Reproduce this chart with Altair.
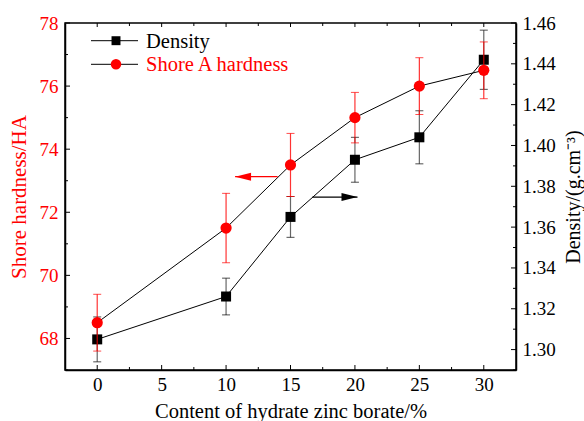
import altair as alt
import pandas as pd

# ---- data ----
content = [0, 10, 15, 20, 25, 30]
hardness = [68.5, 71.5, 73.5, 75.0, 76.0, 76.5]
hardness_err = [0.9, 1.1, 1.0, 0.8, 0.9, 0.9]
density = [1.305, 1.326, 1.365, 1.393, 1.404, 1.442]
density_err = [0.011, 0.009, 0.010, 0.011, 0.013, 0.0145]

x_major = [0, 5, 10, 15, 20, 25, 30]
x_minor = [2.5, 7.5, 12.5, 17.5, 22.5, 27.5]
h_major = [68, 70, 72, 74, 76, 78]
h_minor = [67, 69, 71, 73, 75, 77]
d_major = [1.30, 1.32, 1.34, 1.36, 1.38, 1.40, 1.42, 1.44, 1.46]
d_minor = [1.29, 1.31, 1.33, 1.35, 1.37, 1.39, 1.41, 1.43, 1.45]

arrow_h_tail = [14.0]
arrow_h_tip = [10.7]
arrow_h_level = [73.13]
arrow_d_tail = [16.7]
arrow_d_tip = [20.2]
arrow_d_level = [1.3747]

legend_labels = ["Density", "Shore A hardness"]

# ---- styling ----
FONT = "Liberation Serif"
RED = "#ff0000"
W, H = 451, 347

hdf = pd.DataFrame({"x": content, "y": hardness, "e": hardness_err})
hdf["lo"] = hdf["y"] - hdf["e"]
hdf["hi"] = hdf["y"] + hdf["e"]
ddf = pd.DataFrame({"x": content, "y": density, "e": density_err})
ddf["lo"] = ddf["y"] - ddf["e"]
ddf["hi"] = ddf["y"] + ddf["e"]

xscale = alt.Scale(domain=[-2.5, 32.5], nice=False, zero=False)
hscale = alt.Scale(domain=[67, 78], nice=False, zero=False)
dscale = alt.Scale(domain=[1.29, 1.46], nice=False, zero=False)

xaxis = alt.Axis(values=x_major, ticks=False, grid=False, domainColor="black", domainWidth=1.5,
                 labelFont=FONT, labelFontSize=19, labelColor="black", labelPadding=5, format="d",
                 title="Content of hydrate zinc borate/%", titleFont=FONT, titleFontSize=20.5,
                 titleFontWeight="normal", titleColor="black", titlePadding=7)
haxis = alt.Axis(orient="left", values=h_major, ticks=False, grid=False, domainColor="black", domainWidth=1.5,
                 labelFont=FONT, labelFontSize=19, labelColor=RED, labelPadding=7, format="d",
                 title="Shore hardness/HA", titleFont=FONT, titleFontSize=21,
                 titleFontWeight="normal", titleColor=RED, titlePadding=10)
daxis = alt.Axis(orient="right", values=d_major, ticks=False, grid=False, domainColor="black", domainWidth=1.5,
                 labelFont=FONT, labelFontSize=19, labelColor="black", labelPadding=6, format=".2f",
                 title="Density/(g.cm⁻³)", titleFont=FONT, titleFontSize=20, titleAngle=270,
                 titleBaseline="top", titleFontWeight="normal", titleColor="black", titlePadding=8)


def X(f):
    return alt.X(f"{f}:Q", scale=xscale, axis=xaxis)


def YH(f):
    return alt.Y(f"{f}:Q", scale=hscale, axis=haxis)


def YD(f):
    return alt.Y(f"{f}:Q", scale=dscale, axis=daxis)


# ---- hardness group ----
hbase = alt.Chart(hdf)
h_line = hbase.mark_line(color="black", strokeWidth=1).encode(x=X("x"), y=YH("y"))
h_err = hbase.mark_rule(color=RED, strokeWidth=1.2, opacity=0.8).encode(x=X("x"), y=YH("lo"), y2="hi")
h_cap_lo = hbase.mark_tick(color=RED, orient="horizontal", size=8, thickness=1).encode(x=X("x"), y=YH("lo"))
h_cap_hi = hbase.mark_tick(color=RED, orient="horizontal", size=8, thickness=1).encode(x=X("x"), y=YH("hi"))
h_pts = hbase.mark_point(shape="circle", filled=True, size=125, color=RED, opacity=1).encode(x=X("x"), y=YH("y"))

adf_h = pd.DataFrame({"tail": arrow_h_tail, "tip": arrow_h_tip, "lvl": arrow_h_level})
h_arrow = alt.Chart(adf_h).mark_rule(color=RED, strokeWidth=1.2).encode(x=X("tail"), x2="tip", y=YH("lvl"))
h_head = alt.Chart(adf_h).mark_point(shape="M0,0L2,-0.5L2,0.5Z", filled=True, size=256, color=RED,
                                     opacity=1).encode(x=X("tip"), y=YH("lvl"))

hmaj = pd.DataFrame({"v": h_major})
hmin = pd.DataFrame({"v": h_minor})
h_tmaj = alt.Chart(hmaj).mark_rule(color="black", strokeWidth=1).encode(
    y=YH("v"), x=alt.value(0), x2=alt.value(5))
h_tmin = alt.Chart(hmin).mark_rule(color="black", strokeWidth=1).encode(
    y=YH("v"), x=alt.value(0), x2=alt.value(3))

xmaj = pd.DataFrame({"v": x_major})
xmin = pd.DataFrame({"v": x_minor})
x_tmaj = alt.Chart(xmaj).mark_rule(color="black", strokeWidth=1).encode(
    x=X("v"), y=alt.value(H), y2=alt.value(H - 5))
x_tmin = alt.Chart(xmin).mark_rule(color="black", strokeWidth=1).encode(
    x=X("v"), y=alt.value(H), y2=alt.value(H - 3))
t_tmaj = alt.Chart(xmaj).mark_rule(color="black", strokeWidth=1).encode(
    x=X("v"), y=alt.value(0), y2=alt.value(4))
t_tmin = alt.Chart(xmin).mark_rule(color="black", strokeWidth=1).encode(
    x=X("v"), y=alt.value(0), y2=alt.value(3))

# ---- legend (inside, top-left) ----
leg = []
leg_rows = [(legend_labels[0], 17.7, "square", "black", 80), (legend_labels[1], 41.3, "circle", RED, 110)]
for i, (lab, ly, shp, col, sz) in enumerate(leg_rows):
    ldf = pd.DataFrame({"label": [lab]})
    leg.append(alt.Chart(ldf).mark_rule(color="black", strokeWidth=1).encode(
        x=alt.value(26), x2=alt.value(73), y=alt.value(ly)))
    leg.append(alt.Chart(ldf).mark_point(shape=shp, filled=True, size=sz, color=col, opacity=1).encode(
        x=alt.value(51), y=alt.value(ly)))
    leg.append(alt.Chart(ldf).mark_text(align="left", baseline="middle", font=FONT, fontSize=20.5,
                                        color=col).encode(x=alt.value(81), y=alt.value(ly + 1), text="label:N"))

hard_group = alt.layer(h_tmaj, h_tmin, x_tmaj, x_tmin, t_tmaj, t_tmin, h_line, h_err, h_cap_lo, h_cap_hi,
                       h_arrow, h_head, h_pts, *leg)

# ---- density group ----
dbase = alt.Chart(ddf)
d_line = dbase.mark_line(color="black", strokeWidth=1).encode(x=X("x"), y=YD("y"))
d_err = dbase.mark_rule(color="black", strokeWidth=1.2, opacity=0.6).encode(x=X("x"), y=YD("lo"), y2="hi")
d_cap_lo = dbase.mark_tick(color="black", orient="horizontal", size=8, thickness=1).encode(x=X("x"), y=YD("lo"))
d_cap_hi = dbase.mark_tick(color="black", orient="horizontal", size=8, thickness=1).encode(x=X("x"), y=YD("hi"))
d_pts = dbase.mark_point(shape="square", filled=True, size=100, color="black", opacity=1).encode(
    x=X("x"), y=YD("y"))

adf_d = pd.DataFrame({"tail": arrow_d_tail, "tip": arrow_d_tip, "lvl": arrow_d_level})
d_arrow = alt.Chart(adf_d).mark_rule(color="black", strokeWidth=1.2).encode(x=X("tail"), x2="tip", y=YD("lvl"))
d_head = alt.Chart(adf_d).mark_point(shape="M0,0L-2,-0.5L-2,0.5Z", filled=True, size=256, color="black",
                                     opacity=1).encode(x=X("tip"), y=YD("lvl"))

dmaj = pd.DataFrame({"v": d_major})
dmin = pd.DataFrame({"v": d_minor})
d_tmaj = alt.Chart(dmaj).mark_rule(color="black", strokeWidth=1).encode(
    y=YD("v"), x=alt.value(W), x2=alt.value(W - 5))
d_tmin = alt.Chart(dmin).mark_rule(color="black", strokeWidth=1).encode(
    y=YD("v"), x=alt.value(W), x2=alt.value(W - 3))

dens_group = alt.layer(d_tmaj, d_tmin, d_line, d_err, d_cap_lo, d_cap_hi, d_arrow, d_head, d_pts)

chart = alt.layer(dens_group, hard_group).resolve_scale(y="independent").properties(
    width=W, height=H,
    padding={"left": 65, "top": 23, "right": 68, "bottom": 51},
    autosize=alt.AutoSizeParams(type="none"),
    background="white",
).configure_view(stroke="black", strokeWidth=1.5)

chart.save("out.html", embed_options={"renderer": "svg", "actions": False})
